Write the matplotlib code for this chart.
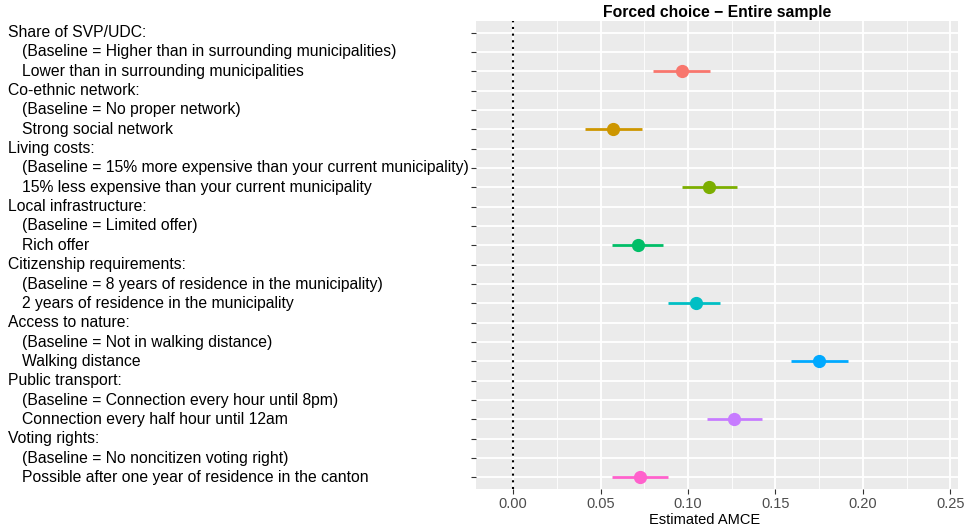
import matplotlib.pyplot as plt
import matplotlib.transforms as mtransforms
from matplotlib.ticker import MultipleLocator

plt.rcParams['font.family'] = ['Liberation Sans', 'DejaVu Sans']

attributes = ['Share of SVP/UDC:', 'Co-ethnic network:', 'Living costs:',
              'Local infrastructure:', 'Citizenship requirements:',
              'Access to nature:', 'Public transport:', 'Voting rights:']
baselines = ['(Baseline = Higher than in surrounding municipalities)',
             '(Baseline = No proper network)',
             '(Baseline = 15% more expensive than your current municipality)',
             '(Baseline = Limited offer)',
             '(Baseline = 8 years of residence in the municipality)',
             '(Baseline = Not in walking distance)',
             '(Baseline = Connection every hour until 8pm)',
             '(Baseline = No noncitizen voting right)']
levels = ['Lower than in surrounding municipalities',
          'Strong social network',
          '15% less expensive than your current municipality',
          'Rich offer',
          '2 years of residence in the municipality',
          'Walking distance',
          'Connection every half hour until 12am',
          'Possible after one year of residence in the canton']
estimates = [0.0963, 0.0572, 0.1121, 0.0711, 0.1045, 0.1748, 0.1260, 0.0727]
lower = [0.0801, 0.0410, 0.0963, 0.0563, 0.0885, 0.1590, 0.1107, 0.0567]
upper = [0.1125, 0.0735, 0.1278, 0.0858, 0.1180, 0.1915, 0.1423, 0.0887]
colors = ['#F8766D', '#CD9600', '#7CAE00', '#00BE67',
          '#00BFC4', '#00A9FF', '#C77CFF', '#FF61CC']

fig = plt.figure(figsize=(9.7, 5.29), dpi=100)
ax = fig.add_axes([476 / 970, 1 - 489 / 529, 482 / 970, 468 / 529])
ax.set_facecolor('#EBEBEB')

n_rows = 3 * len(attributes)
# row positions, top row = n_rows
for i in range(len(attributes)):
    y = n_rows - (3 * i + 2)
    ax.plot([lower[i], upper[i]], [y, y], color=colors[i], lw=2, zorder=3,
            solid_capstyle='butt')
    ax.plot(estimates[i], y, 'o', color=colors[i], ms=8.5, zorder=4)

ax.axvline(0, color='black', ls=(0, (1, 2.2)), lw=1.5, zorder=2)

ax.set_xlim(-0.0213, 0.2544)
ax.set_ylim(0.4, n_rows + 0.6)
ax.xaxis.set_major_locator(MultipleLocator(0.05))
ax.xaxis.set_minor_locator(MultipleLocator(0.025))
ax.set_yticks(range(1, n_rows + 1))
ax.set_yticklabels([])
ax.grid(which='major', color='white', lw=1.3, zorder=0)
ax.grid(which='minor', axis='x', color='white', lw=0.6, zorder=0)
ax.set_axisbelow(True)
for s in ax.spines.values():
    s.set_visible(False)
ax.tick_params(axis='both', which='major', color='#333333', length=3.5,
               width=0.8, labelsize=10.5, labelcolor='#4D4D4D', pad=2)
ax.tick_params(axis='x', which='minor', length=0)
ax.set_xticklabels(['%.2f' % v for v in ax.get_xticks()])
ax.set_xlabel('Estimated AMCE', fontsize=10.5, color='black', va='center')
ax.xaxis.set_label_coords(0.475, -0.066)
ax.set_title('Forced choice \u2212 Entire sample', fontsize=11.3,
             fontweight='bold', pad=3)

trans = mtransforms.blended_transform_factory(fig.transFigure, ax.transData)
for i in range(len(attributes)):
    rows = [attributes[i], baselines[i], levels[i]]
    for j, label in enumerate(rows):
        y = n_rows - (3 * i + j)
        x = 8 / 970 if j == 0 else 22 / 970
        ax.text(x, y, label, transform=trans, ha='left', va='center',
                fontsize=11.3, color='black', clip_on=False)

fig.savefig('out.png', dpi=100)
